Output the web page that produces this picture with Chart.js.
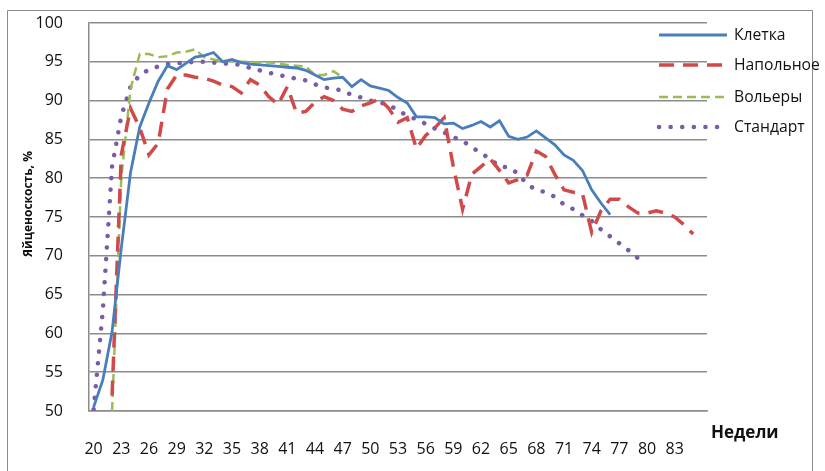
<!DOCTYPE html>
<html>
<head>
<meta charset="utf-8">
<script src="https://cdn.jsdelivr.net/npm/chart.js@4.4.1/dist/chart.umd.min.js"></script>
<style>
  html, body { margin: 0; padding: 0; background: #fff; }
</style>
</head>
<body>
<canvas id="egg-chart" width="825" height="471"></canvas>
<script>
// weeks 20..86
const weeks = [];
for (let w = 20; w <= 86; w++) weeks.push(String(w));

const cageValues = [50.5, 54, 60.2, 71, 80.7, 86.6, 89.7, 92.5, 94.5, 94.0,
    94.8, 95.6, 95.8, 96.2, 95.0, 95.3, 94.9, 94.7, 94.6, 94.5,
    94.4, 94.3, 94.2, 93.9, 93.3, 92.7, 92.9, 93.0, 91.8, 92.7,
    91.9, 91.6, 91.3, 90.4, 89.7, 87.9, 87.9, 87.8, 87.0, 87.1,
    86.4, 86.8, 87.3, 86.6, 87.4, 85.4, 85.0, 85.3, 86.1, 85.2,
    84.3, 83.0, 82.3, 81.0, 78.5, 76.8, 75.3,
    null, null, null, null, null, null, null, null, null, null];

const floorValues = [null, null, 52, 83, 89, 86.5, 83, 84.5, 91.5, 93.3,
    93.3, 93.0, 92.9, 92.5, 92.0, 91.8, 91.0, 92.7, 92.0, 90.5,
    89.5, 91.8, 88.4, 88.6, 89.8, 90.5, 90.0, 88.9, 88.6, 89.3,
    89.7, 90.2, 89.0, 87.2, 87.8, 83.8, 85.5, 86.5, 87.8, 81.5,
    76.0, 80.5, 81.5, 82.5, 81.0, 79.4, 79.8, 80.4, 83.5, 82.8,
    80.5, 78.5, 78.2, 78.0, 73.0, 75.8, 77.3, 77.3, 76.3, 75.5,
    75.5, 75.8, 75.5, 75.0, 74.0, 72.8, null];

const aviaryValues = [null, null, 50, 80, 91.5, 96.0, 96.0, 95.6, 95.7, 96.2,
    96.3, 96.6, 95.6, 95.3, 95.1, 95.1, 95.0, 95.0, 94.9, 94.9,
    94.8, 94.6, 94.5, 94.4, 93.3, 93.3, 93.8, 93.0];

const standardValues = [50.2, 63, 81.5, 88, 91.8, 93.3, 94.0, 94.4, 94.7, 94.8,
    94.9, 95.0, 95.0, 94.9, 94.8, 94.7, 94.6, 94.2, 93.9, 93.6,
    93.3, 93.1, 92.8, 92.6, 92.1, 91.7, 91.5, 91.3, 90.7, 90.4,
    90.0, 89.8, 89.4, 88.8, 88.0, 87.6, 87.0, 86.4, 85.9, 85.3,
    84.8, 84.0, 83.2, 82.5, 81.5, 81.4, 80.6, 79.2, 78.5, 78.2,
    77.6, 76.6, 76.0, 75.2, 74.5, 73.4, 72.5, 71.6, 70.7, 69.7];

const yTicks = [50, 55, 60, 65, 70, 75, 80, 85, 90, 95, 100];
const lastLabel = 83;

Chart.defaults.font.family = "'Open Sans', sans-serif";
Chart.defaults.color = '#111';

// frame, axis titles and legend drawn by hand like the excel original
const decorPlugin = {
    id: 'decor',
    beforeDraw(chart) {
        const ctx = chart.ctx;
        ctx.save();
        ctx.fillStyle = '#fff';
        ctx.fillRect(0, 0, chart.width, chart.height);
        ctx.strokeStyle = '#8c8c8c';
        ctx.lineWidth = 1;
        ctx.beginPath();
        ctx.moveTo(7.5, 480);
        ctx.lineTo(7.5, 10.5);
        ctx.lineTo(812.5, 10.5);
        ctx.lineTo(812.5, 480);
        ctx.stroke();
        ctx.restore();
    },
    afterDraw(chart) {
        const ctx = chart.ctx;
        ctx.save();
        // y title
        ctx.translate(29, 204);
        ctx.rotate(-Math.PI / 2);
        ctx.font = "bold 12px 'Open Sans'";
        ctx.fillStyle = '#111';
        ctx.textAlign = 'center';
        ctx.textBaseline = 'middle';
        ctx.fillText('Яйценоскость, %', 0, 0);
        ctx.restore();

        ctx.save();
        ctx.font = "bold 17px 'Open Sans'";
        ctx.fillStyle = '#111';
        ctx.textAlign = 'left';
        ctx.textBaseline = 'middle';
        ctx.fillText('Недели', 711, 433);
        ctx.restore();

        // legend
        const rows = [35, 65, 97, 127];
        chart.data.datasets.forEach((ds, i) => {
            const y = rows[i];
            ctx.save();
            ctx.strokeStyle = ds.borderColor;
            ctx.lineWidth = ds.borderWidth;
            ctx.lineCap = ds.borderCapStyle || 'butt';
            ctx.setLineDash(ds.borderDash || []);
            ctx.beginPath();
            ctx.moveTo(659, y);
            ctx.lineTo(727, y);
            ctx.stroke();
            ctx.restore();
            ctx.save();
            ctx.font = "15.7px 'Open Sans'";
            ctx.fillStyle = '#111';
            ctx.textBaseline = 'middle';
            ctx.fillText(ds.label, 734, y + 1);
            ctx.restore();
        });
    }
};

function zeroPad(scale) {
    scale.paddingLeft = 0;
    scale.paddingRight = 0;
    scale.paddingTop = 0;
    scale.paddingBottom = 0;
}

new Chart(document.getElementById('egg-chart'), {
    type: 'line',
    data: {
        labels: weeks,
        datasets: [
            {
                label: 'Клетка',
                data: cageValues,
                borderColor: '#4a7ebb',
                borderWidth: 2.8,
            },
            {
                label: 'Напольное',
                data: floorValues,
                borderColor: '#d04a4a',
                borderWidth: 3.5,
                borderDash: [15, 9],
            },
            {
                label: 'Вольеры',
                data: aviaryValues,
                borderColor: '#9bbb59',
                borderWidth: 2.5,
                borderDash: [9, 5],
            },
            {
                label: 'Стандарт',
                data: standardValues,
                borderColor: '#7a5ca6',
                borderWidth: 4.5,
                borderDash: [0.1, 11.5],
                borderCapStyle: 'round',
            },
        ],
    },
    options: {
        responsive: false,
        animation: false,
        layout: { padding: { left: 10, right: 118, top: 23, bottom: 0 } },
        elements: { point: { radius: 0 }, line: { tension: 0 } },
        plugins: {
            legend: { display: false },
            tooltip: { enabled: false },
        },
        scales: {
            x: {
                type: 'category',
                offset: true,
                grid: { display: false, drawTicks: false },
                border: { display: true, color: '#8c8c8c', width: 1.5 },
                afterFit: (scale) => { scale.height = 60; zeroPad(scale); },
                ticks: {
                    autoSkip: false,
                    maxRotation: 0,
                    padding: 29,
                    font: { size: 16 },
                    callback: function (value, index) {
                        const w = +weeks[index];
                        return (w - 20) % 3 === 0 && w <= lastLabel ? weeks[index] : '';
                    },
                },
            },
            y: {
                min: 50,
                max: 100,
                afterBuildTicks: (scale) => { scale.ticks = yTicks.map(v => ({ value: v })); },
                afterFit: (scale) => { scale.width = 79; zeroPad(scale); },
                grid: { color: '#8c8c8c', lineWidth: 1.5, drawTicks: false },
                border: { display: true, color: '#8c8c8c', width: 1.5 },
                ticks: { padding: 26, font: { size: 16 } },
            },
        },
    },
    plugins: [decorPlugin],
});
</script>
</body>
</html>
